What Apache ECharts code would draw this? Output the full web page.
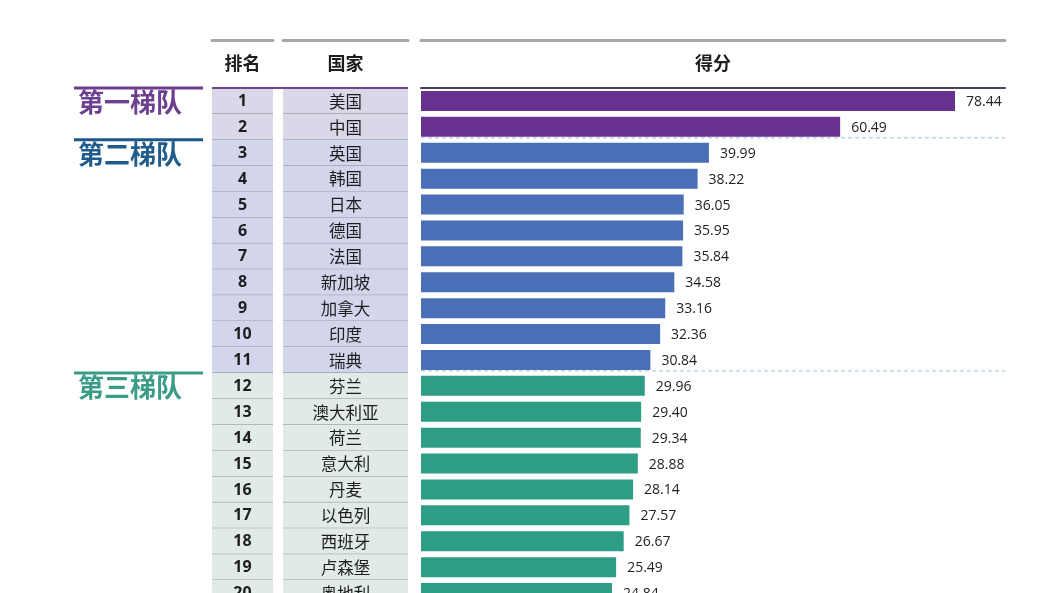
<!DOCTYPE html>
<html>
<head>
<meta charset="utf-8">
<script src="https://cdn.jsdelivr.net/npm/echarts@6/dist/echarts.min.js"></script>
<style>
html,body{margin:0;padding:0;background:#fff;overflow:hidden;}
#chart{width:1061px;height:606px;}
</style>
</head>
<body>
<div id="chart"></div>
<script>
// ---- data ----
const headers = ['排名', '国家', '得分'];
const ranks = ['1','2','3','4','5','6','7','8','9','10','11','12','13','14','15','16','17','18','19','20'];
const countries = ['美国','中国','英国','韩国','日本','德国','法国','新加坡','加拿大','印度','瑞典','芬兰','澳大利亚','荷兰','意大利','丹麦','以色列','西班牙','卢森堡','奥地利'];
const scores = [78.44,60.49,39.99,38.22,36.05,35.95,35.84,34.58,33.16,32.36,30.84,29.96,29.40,29.34,28.88,28.14,27.57,26.67,25.49,24.84];
const tierNames = ['第一梯队','第二梯队','第三梯队'];
const tierStarts = [0, 2, 11];

// ---- styles ----
const barColors = ['#68318f', '#4a6fb7', '#2e9d86'];
const cellColors = ['#dcd6e9', '#d2d5ec', '#e0eae6'];
const tierTextColors = ['#6d3f91', '#1f5c8c', '#3a9c87'];
const tierLineColors = ['#6b3f8e', '#1d5787', '#3a9c87'];
const xMinBar = -5, xMaxBar = 86.25;
const CJK = '"Noto Sans CJK SC", "Noto Sans", sans-serif';

function tierOf(i) {
  let k = 0;
  for (let t = 0; t < tierStarts.length; t++) if (i >= tierStarts[t]) k = t;
  return k;
}

function cellRender(getText, font) {
  return function (params, api) {
    const i = api.value(1);
    const p0 = api.coord([0, i]);
    const p1 = api.coord([1, i]);
    const bh = api.size([0, 1])[1];
    const top = p0[1] - bh / 2;
    const k = tierOf(i);
    return {
      type: 'group',
      children: [
        { type: 'rect', shape: { x: p0[0], y: top, width: p1[0] - p0[0], height: bh }, style: { fill: cellColors[k] } },
        { type: 'line', shape: { x1: p0[0], y1: top + bh, x2: p1[0], y2: top + bh }, style: { stroke: '#8f949a', lineWidth: 1 } },
        { type: 'text', style: { text: getText(i), x: (p0[0] + p1[0]) / 2, y: p0[1] + 0.5, align: 'center', verticalAlign: 'middle', font: font, fill: '#1e1e1e' } }
      ]
    };
  };
}

function barRender(params, api) {
  const v = api.value(0);
  const i = api.value(1);
  const s = api.coord([xMinBar, i]);
  const e = api.coord([v, i]);
  const right = api.coord([xMaxBar, i]);
  const bh = api.size([0, 1])[1];
  const h = 20;
  const k = tierOf(i);
  const children = [];
  if (tierStarts.indexOf(i + 1) > 0) {
    children.push({ type: 'line', z2: 0, shape: { x1: s[0], y1: s[1] + bh / 2 - 2, x2: right[0], y2: s[1] + bh / 2 - 2 },
      style: { stroke: '#9cc1d3', lineWidth: 1, lineDash: [4, 3] } });
  }
  children.push({ type: 'rect', z2: 10, shape: { x: s[0], y: e[1] - h / 2, width: e[0] - s[0], height: h }, style: { fill: barColors[k] } });
  children.push({ type: 'text', z2: 10, style: { text: v.toFixed(2), x: e[0] + 11, y: e[1] + 1, align: 'left', verticalAlign: 'middle',
    font: '14px "Open Sans", "Noto Sans", sans-serif', fill: '#222' } });
  return { type: 'group', children: children };
}

function tierRender(params, api) {
  const i = api.value(1);
  const k = api.value(2);
  const p0 = api.coord([0, i]);
  const p1 = api.coord([1, i]);
  const bh = api.size([0, 1])[1];
  const top = p0[1] - bh / 2;
  return {
    type: 'group',
    children: [
      { type: 'line', shape: { x1: p0[0], y1: top, x2: p1[0], y2: top }, style: { stroke: tierLineColors[k], lineWidth: 3 } },
      { type: 'text', style: { text: tierNames[k], x: p0[0] + 4, y: p0[1] + 1, align: 'left', verticalAlign: 'middle',
        font: 'bold 26px ' + CJK, fill: tierTextColors[k] } }
    ]
  };
}

const gridTop = 88, gridBottom = 0;
const grids = [
  { left: 212, width: 61, top: gridTop, bottom: gridBottom },
  { left: 283, width: 125, top: gridTop, bottom: gridBottom },
  { left: 421, width: 584, top: gridTop, bottom: gridBottom },
  { left: 74, width: 129, top: gridTop, bottom: gridBottom }
];

const headerName = { fontSize: 18, fontWeight: 'bold', color: '#1e1e1e', fontFamily: CJK };
function headAxis(g, name, min, max, lineColor) {
  return {
    type: 'value', gridIndex: g, position: 'top', min: min, max: max,
    name: name, nameLocation: 'middle', nameGap: 16, nameTextStyle: headerName,
    axisLine: { show: !!lineColor, lineStyle: { color: lineColor || '#000', width: 2 } },
    axisTick: { show: false }, axisLabel: { show: false }, splitLine: { show: false }
  };
}
function grayAxis(g, min, max) {
  return {
    type: 'value', gridIndex: g, position: 'top', offset: 48, min: min, max: max,
    axisLine: { show: true, lineStyle: { color: '#a8a8a8', width: 3 } },
    axisTick: { show: false }, axisLabel: { show: false }, splitLine: { show: false }
  };
}

const yAxes = [0, 1, 2, 3].map(g => ({ type: 'category', gridIndex: g, data: ranks, inverse: true, show: false }));

const option = {
  backgroundColor: '#ffffff',
  animation: false,
  grid: grids,
  xAxis: [
    headAxis(0, headers[0], 0, 1, null),
    headAxis(1, headers[1], 0, 1, null),
    headAxis(2, headers[2], xMinBar, xMaxBar, '#4b3d5e'),
    { type: 'value', gridIndex: 3, min: 0, max: 1, show: false },
    grayAxis(0, 0, 1),
    grayAxis(1, 0, 1),
    grayAxis(2, xMinBar, xMaxBar)
  ],
  yAxis: yAxes,
  graphic: [
    { type: 'line', z: 100, shape: { x1: 212, y1: 88, x2: 408, y2: 88 }, style: { stroke: '#6a4a8c', lineWidth: 2 } }
  ],
  series: [
    { type: 'custom', xAxisIndex: 0, yAxisIndex: 0, data: ranks.map((r, i) => [0, i]), encode: { x: 0, y: 1 },
      renderItem: cellRender(i => ranks[i], 'bold 16px "Noto Sans", "Open Sans", sans-serif') },
    { type: 'custom', xAxisIndex: 1, yAxisIndex: 1, data: countries.map((c, i) => [0, i]), encode: { x: 0, y: 1 },
      renderItem: cellRender(i => countries[i], '16.5px ' + CJK) },
    { type: 'custom', xAxisIndex: 2, yAxisIndex: 2, data: scores.map((v, i) => [v, i]), encode: { x: 0, y: 1 },
      renderItem: barRender },
    { type: 'custom', xAxisIndex: 3, yAxisIndex: 3, data: tierStarts.map((s, k) => [0, s, k]), encode: { x: 0, y: 1 },
      renderItem: tierRender }
  ]
};

const chart = echarts.init(document.getElementById('chart'), null, { renderer: 'canvas' });
chart.setOption(option);
</script>
</body>
</html>
